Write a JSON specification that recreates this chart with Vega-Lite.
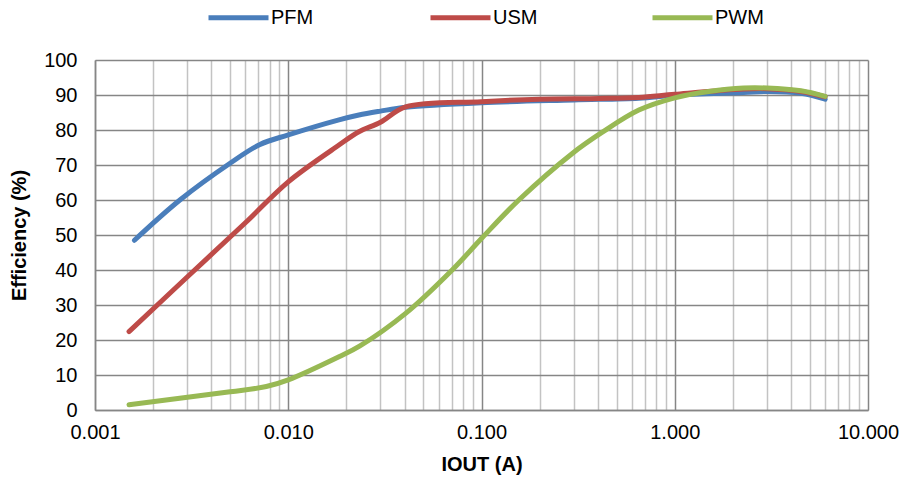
{
  "$schema": "https://vega.github.io/schema/vega-lite/v6.json",
  "width": 773,
  "height": 350,
  "autosize": {"type": "none"},
  "padding": {"left": 95, "top": 60, "right": 38, "bottom": 69},
  "background": "white",
  "config": {
    "view": {"stroke": null},
    "font": "Liberation Sans",
    "axis": {"labelFont": "Liberation Sans", "titleFont": "Liberation Sans"}
  },
  "data": {
    "values": [
      {"series": "PFM", "iout": 0.0016, "eff": 48.5},
      {"series": "PFM", "iout": 0.00275, "eff": 60},
      {"series": "PFM", "iout": 0.005, "eff": 70.5},
      {"series": "PFM", "iout": 0.0071, "eff": 75.8},
      {"series": "PFM", "iout": 0.01, "eff": 78.6},
      {"series": "PFM", "iout": 0.0183, "eff": 82.9},
      {"series": "PFM", "iout": 0.0232, "eff": 84.3},
      {"series": "PFM", "iout": 0.03, "eff": 85.4},
      {"series": "PFM", "iout": 0.0405, "eff": 86.5},
      {"series": "PFM", "iout": 0.1, "eff": 87.8},
      {"series": "PFM", "iout": 0.3, "eff": 88.6},
      {"series": "PFM", "iout": 0.65, "eff": 89.1},
      {"series": "PFM", "iout": 1.0, "eff": 89.9},
      {"series": "PFM", "iout": 2.27, "eff": 90.7},
      {"series": "PFM", "iout": 3.0, "eff": 91.0},
      {"series": "PFM", "iout": 4.5, "eff": 90.5},
      {"series": "PFM", "iout": 6.0, "eff": 88.8},
      {"series": "USM", "iout": 0.0015, "eff": 22.4},
      {"series": "USM", "iout": 0.003, "eff": 38},
      {"series": "USM", "iout": 0.006, "eff": 53.5},
      {"series": "USM", "iout": 0.01, "eff": 65.2},
      {"series": "USM", "iout": 0.0183, "eff": 75.7},
      {"series": "USM", "iout": 0.0232, "eff": 79.5},
      {"series": "USM", "iout": 0.03, "eff": 82.2},
      {"series": "USM", "iout": 0.0405, "eff": 86.6},
      {"series": "USM", "iout": 0.1, "eff": 88.1},
      {"series": "USM", "iout": 0.2, "eff": 88.8},
      {"series": "USM", "iout": 0.41, "eff": 89.0},
      {"series": "USM", "iout": 0.65, "eff": 89.3},
      {"series": "USM", "iout": 1.0, "eff": 90.2},
      {"series": "USM", "iout": 2.27, "eff": 91.7},
      {"series": "USM", "iout": 3.0, "eff": 91.8},
      {"series": "USM", "iout": 4.5, "eff": 91.0},
      {"series": "USM", "iout": 6.0, "eff": 89.5},
      {"series": "PWM", "iout": 0.0015, "eff": 1.5},
      {"series": "PWM", "iout": 0.005, "eff": 5.2},
      {"series": "PWM", "iout": 0.0077, "eff": 6.7},
      {"series": "PWM", "iout": 0.01, "eff": 8.6},
      {"series": "PWM", "iout": 0.0183, "eff": 15.2},
      {"series": "PWM", "iout": 0.0235, "eff": 18.3},
      {"series": "PWM", "iout": 0.0405, "eff": 27.6},
      {"series": "PWM", "iout": 0.0705, "eff": 40},
      {"series": "PWM", "iout": 0.1, "eff": 49},
      {"series": "PWM", "iout": 0.156, "eff": 60},
      {"series": "PWM", "iout": 0.295, "eff": 73.3},
      {"series": "PWM", "iout": 0.42, "eff": 79.3},
      {"series": "PWM", "iout": 0.652, "eff": 85.7},
      {"series": "PWM", "iout": 1.0, "eff": 89.2},
      {"series": "PWM", "iout": 1.5, "eff": 91.0},
      {"series": "PWM", "iout": 2.27, "eff": 92.0},
      {"series": "PWM", "iout": 3.0, "eff": 92.0},
      {"series": "PWM", "iout": 4.5, "eff": 91.2},
      {"series": "PWM", "iout": 6.0, "eff": 89.6}
    ]
  },
  "mark": {"type": "line", "strokeWidth": 5, "strokeCap": "round", "strokeJoin": "round", "interpolate": "catmull-rom", "clip": true},
  "encoding": {
    "x": {
      "field": "iout", "type": "quantitative",
      "scale": {"type": "log", "domain": [0.001, 10], "nice": false},
      "axis": {
        "title": "IOUT (A)",
        "titleFontSize": 20, "titleFontWeight": "bold", "titleColor": "black", "titlePadding": 12,
        "values": [0.001,0.002,0.003,0.004,0.005,0.006,0.007,0.008,0.009,0.01,0.02,0.03,0.04,0.05,0.06,0.07,0.08,0.09,0.1,0.2,0.3,0.4,0.5,0.6,0.7,0.8,0.9,1,2,3,4,5,6,7,8,9,10],
        "labelExpr": "abs(log(datum.value)/LN10 - round(log(datum.value)/LN10)) < 0.000001 ? format(datum.value, '.3f') : ''",
        "labelOverlap": false,
        "labelFlush": false,
        "labelFontSize": 20, "labelColor": "black", "labelPadding": 12,
        "ticks": false,
        "domainColor": "#868686", "domainWidth": 1.5,
        "grid": true,
        "gridColor": {"condition": {"test": "abs(log(datum.value)/LN10 - round(log(datum.value)/LN10)) < 0.000001", "value": "#868686"}, "value": "#c3c3c3"},
        "gridWidth": 1.5
      }
    },
    "y": {
      "field": "eff", "type": "quantitative",
      "scale": {"domain": [0, 100], "nice": false},
      "axis": {
        "title": "Efficiency (%)",
        "titleFontSize": 20, "titleFontWeight": "bold", "titleColor": "black", "titlePadding": 14,
        "values": [0,10,20,30,40,50,60,70,80,90,100],
        "labelFontSize": 20, "labelColor": "black", "labelPadding": 18,
        "ticks": false,
        "domainColor": "#868686", "domainWidth": 1.5,
        "grid": true, "gridColor": "#868686", "gridWidth": 1.5
      }
    },
    "color": {
      "field": "series", "type": "nominal",
      "sort": ["PFM", "USM", "PWM"],
      "scale": {"domain": ["PFM", "USM", "PWM"], "range": ["#4a7ebb", "#be4b48", "#98b954"]},
      "legend": {
        "title": null,
        "orient": "none",
        "legendX": 111,
        "legendY": -75,
        "direction": "horizontal",
        "columns": 3,
        "gridAlign": "all",
        "columnPadding": 100,
        "padding": 0,
        "symbolType": "stroke",
        "symbolSize": 3600,
        "symbolStrokeWidth": 5,
        "labelFontSize": 20,
        "labelColor": "black",
        "labelOffset": 0
      }
    }
  }
}
